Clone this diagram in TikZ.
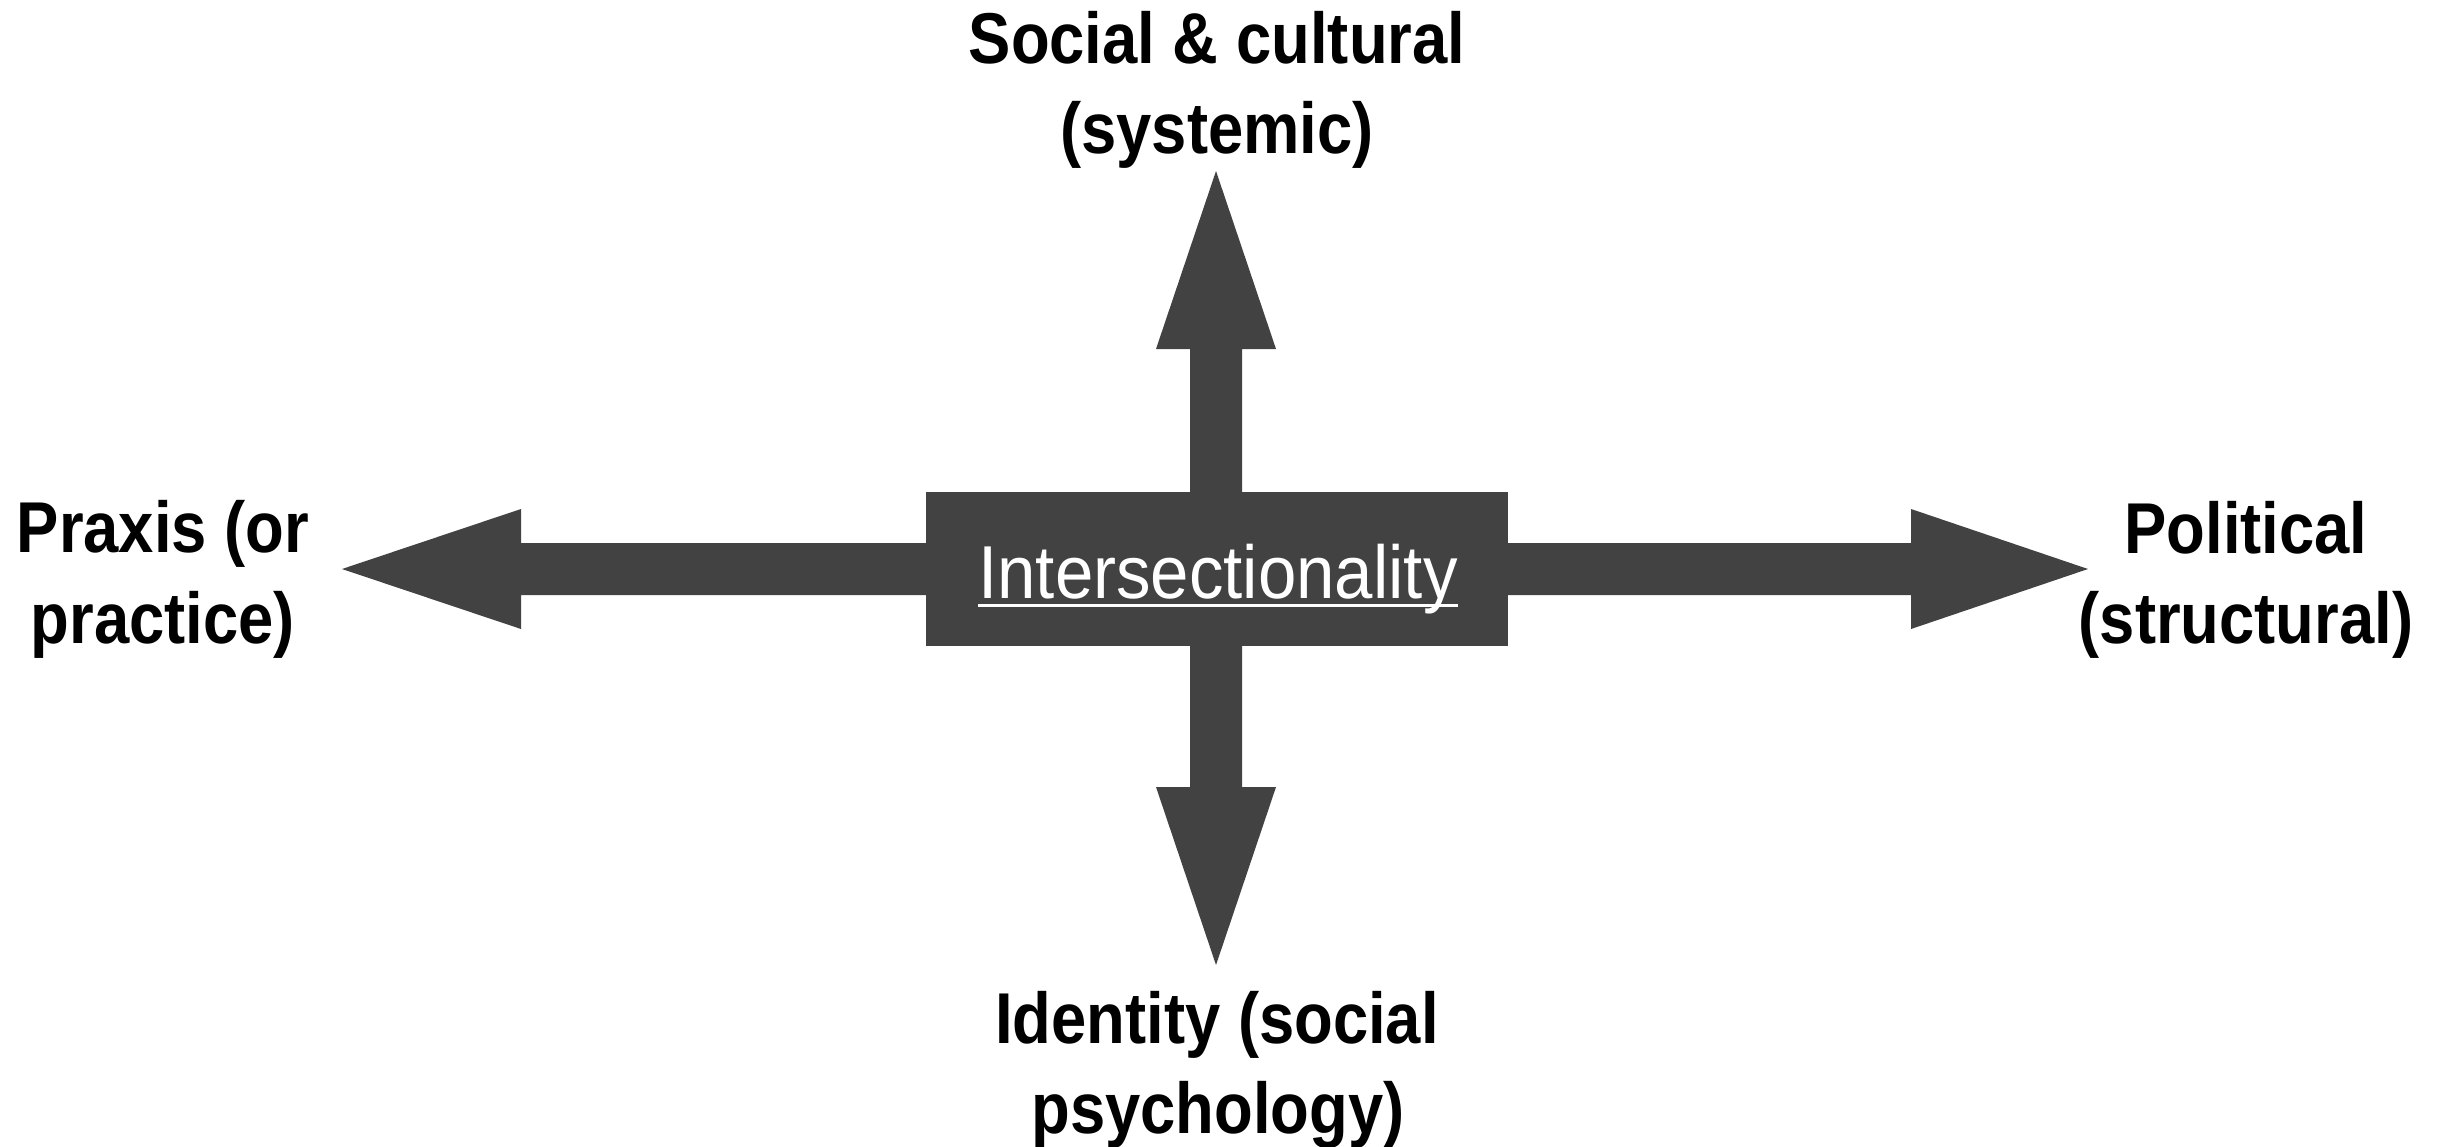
\documentclass[tikz,border=0pt]{standalone}
\usepackage{fontspec}
\setmainfont{Liberation Sans}
\newfontfamily\labfont{Liberation Sans Bold}[FakeStretch=0.88]
\newfontfamily\boxfont{Liberation Sans}[FakeStretch=0.92]
\usetikzlibrary{calc}
\definecolor{arrowgray}{RGB}{66,66,66}
\tikzset{
  arrowfill/.style={fill=arrowgray, draw=none},
  labelline/.style={anchor=base, inner sep=0pt, font=\labfont\fontsize{72}{90}\selectfont, text=black},
  centerbox/.style={fill=arrowgray, draw=none, minimum width=582pt, minimum height=154pt, inner sep=0pt},
  boxtext/.style={anchor=base, inner sep=0pt, text=white, font=\boxfont\fontsize{75}{90}\selectfont}
}
\begin{document}
\begin{tikzpicture}[x=1pt, y=-1pt]
\useasboundingbox (0,0) rectangle (2440,1146);
\coordinate (o) at (1216,569);
% labels
\node[labelline] (top1) at (1217,63) {Social \& cultural};
\node[labelline] (top2) at (1217,153) {(systemic)};
\node[labelline] (left1) at (163,552) {Praxis (or};
\node[labelline] (left2) at (163,643) {practice)};
\node[labelline] (right1) at (2246,553) {Political};
\node[labelline] (right2) at (2246,643) {(structural)};
\node[labelline] (bot1) at (1217,1043) {Identity (social};
\node[labelline] (bot2) at (1218,1133) {psychology)};
% arrows
\begin{scope}[shift={(o)}]
  % up
  \fill[arrowfill] (-26,0) -- (-26,-220) -- (-60,-220) -- (0,-398) -- (60,-220) -- (26,-220) -- (26,0) -- cycle;
  % down
  \fill[arrowfill] (-26,0) -- (-26,218) -- (-60,218) -- (0,396) -- (60,218) -- (26,218) -- (26,0) -- cycle;
  % left
  \fill[arrowfill] (0,-26) -- (-695,-26) -- (-695,-60) -- (-874,0) -- (-695,60) -- (-695,26) -- (0,26) -- cycle;
  % right
  \fill[arrowfill] (0,-26) -- (695,-26) -- (695,-60) -- (872,0) -- (695,60) -- (695,26) -- (0,26) -- cycle;
\end{scope}
% center box
\node[centerbox] (c) at (1217,569) {};
\node[boxtext] (ix) at (1218,598) {Intersectionality};
\draw[white, line width=3pt] ($(ix.base west)+(0,7)$) -- ($(ix.base east)+(0,7)$);
\end{tikzpicture}
\end{document}
